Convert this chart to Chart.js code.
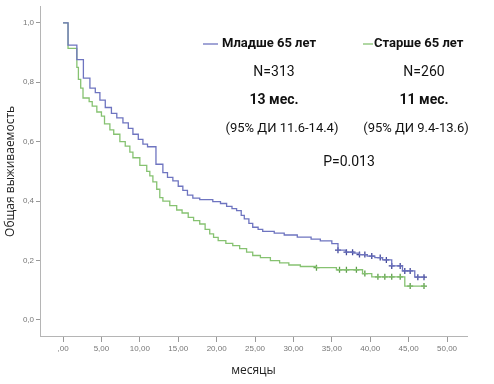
<!DOCTYPE html>
<html>
<head>
<meta charset="utf-8">
<script src="https://cdn.jsdelivr.net/npm/chart.js@4"></script>
<style>
  html, body { margin:0; padding:0; background:#fff; }
  #wrap { width:494px; height:384px; position:relative; }
</style>
</head>
<body>
<div id="wrap"><canvas id="km" width="494" height="384"></canvas></div>
<script>
// Kaplan-Meier data (months / survival share)
const youngTimes = [0, 0.65, 1.8, 2.65, 3.5, 4.2, 4.8, 5.5, 6.3, 7.0, 7.8, 8.5, 9.1, 9.8, 10.4, 11.0, 12.1, 13.0, 13.6, 14.3,
  15.0, 15.6, 16.2, 16.9, 17.8, 19.5, 20.5, 21.3, 22.0, 22.6, 23.2, 23.6, 24.2, 24.7, 25.4, 26.0, 27.5, 28.8, 30.5, 32.3,
  33.5, 35.0, 35.8, 36.8, 37.8, 38.6, 39.6, 40.6, 41.6, 42.8, 44.2, 45.8, 47.0];
const youngSurv = [1.0, 0.925, 0.876, 0.814, 0.78, 0.765, 0.74, 0.715, 0.695, 0.68, 0.663, 0.645, 0.625, 0.608, 0.592, 0.583, 0.524, 0.496, 0.48, 0.468,
  0.45, 0.436, 0.42, 0.41, 0.405, 0.398, 0.392, 0.382, 0.375, 0.368, 0.352, 0.34, 0.325, 0.312, 0.305, 0.298, 0.292, 0.286, 0.279, 0.272,
  0.266, 0.257, 0.235, 0.228, 0.225, 0.22, 0.215, 0.21, 0.202, 0.182, 0.165, 0.144, 0.144];
const youngCensored = [35.8, 36.9, 37.7, 38.6, 39.3, 40.2, 41.3, 42.1, 42.8, 43.9, 44.5, 45.2, 46.2, 47.0];

const oldTimes = [0, 0.65, 1.8, 2.0, 2.3, 2.6, 3.4, 3.8, 4.4, 5.0, 5.4, 6.1, 6.6, 7.4, 8.1, 8.7, 9.1, 10.0, 10.9, 11.3,
  11.7, 12.2, 12.6, 13.0, 13.9, 14.8, 15.5, 16.3, 17.0, 17.8, 18.5, 19.1, 19.6, 20.2, 21.2, 22.1, 23.0, 23.9, 24.7, 25.7,
  27.0, 28.2, 29.4, 30.9, 33.0, 35.6, 39.0, 40.2, 44.5, 47.1];
const oldSurv = [1.0, 0.914, 0.85, 0.81, 0.78, 0.747, 0.735, 0.72, 0.70, 0.686, 0.66, 0.64, 0.625, 0.60, 0.585, 0.565, 0.546, 0.52, 0.50, 0.485,
  0.465, 0.44, 0.412, 0.40, 0.385, 0.37, 0.36, 0.345, 0.334, 0.323, 0.305, 0.29, 0.278, 0.267, 0.258, 0.25, 0.24, 0.228, 0.217, 0.21,
  0.20, 0.192, 0.185, 0.18, 0.176, 0.169, 0.156, 0.145, 0.114, 0.114];
const oldCensored = [33.0, 36.0, 36.9, 38.2, 39.3, 41.0, 41.9, 42.8, 43.9, 45.2, 47.0];

const xTickValues = [0, 5, 10, 15, 20, 25, 30, 35, 40, 45, 50];
const xTickLabels = [',00', '5,00', '10,00', '15,00', '20,00', '25,00', '30,00', '35,00', '40,00', '45,00', '50,00'];
const yTickValues = [0, 0.2, 0.4, 0.6, 0.8, 1.0];
const yTickLabels = ['0,0', '0,2', '0,4', '0,6', '0,8', '1,0'];

const groupNames = ['Младше 65 лет', 'Старше 65 лет'];
const groupN = ['N=313', 'N=260'];
const groupMedian = ['13 мес.', '11 мес.'];
const groupCI = ['(95% ДИ 11.6-14.4)', '(95% ДИ 9.4-13.6)'];
const pValue = 'P=0.013';

const BLUE = '#6e74c0', BLUE_DARK = '#43489a';
const GREEN = '#86c271', GREEN_DARK = '#5c9e49';

const steps = (ts, ss) => ts.map((t,i)=>({x:t, y:ss[i]}));
// survival value at a censoring time = last step at or before it
const survAt = (ts, ss, t) => { let v = ss[0]; ts.forEach((x,i)=>{ if(x<=t+1e-9) v = ss[i]; }); return v; };
const marks = (cs, ts, ss) => cs.map(t=>({x:t, y:survAt(ts, ss, t)}));

const notes = {
  id:'notes',
  afterDraw(chart){
    const c = chart.ctx;
    const cx = [274, 424];
    c.save();
    c.fillStyle = '#111';
    c.textBaseline = 'middle';
    // legend rows
    c.font = 'bold 13px Roboto';
    c.textAlign = 'left';
    c.fillText(groupNames[0], 222, 44);
    c.fillText(groupNames[1], 374, 44);
    c.lineWidth = 1.3;
    c.strokeStyle = BLUE; c.beginPath(); c.moveTo(203,44); c.lineTo(218,44); c.stroke();
    c.strokeStyle = GREEN; c.beginPath(); c.moveTo(363,44); c.lineTo(373,44); c.stroke();
    c.textAlign = 'center';
    c.font = '14px Roboto';
    groupN.forEach((s,i)=>c.fillText(s, cx[i], 72));
    c.font = 'bold 14px Roboto';
    groupMedian.forEach((s,i)=>c.fillText(s, cx[i], 100));
    c.font = '13px Roboto';
    c.fillText(groupCI[0], 282, 129);
    c.fillText(groupCI[1], 416, 129);
    c.font = '14px Roboto';
    c.fillText(pValue, 349, 162);
    c.restore();
  }
};

new Chart(document.getElementById('km'), {
  type:'line',
  data:{
    datasets:[
      { label:groupNames[0], data:steps(youngTimes, youngSurv), stepped:'before', borderColor:BLUE, borderWidth:1.3, pointRadius:0, fill:false },
      { label:groupNames[1], data:steps(oldTimes, oldSurv), stepped:'before', borderColor:GREEN, borderWidth:1.3, pointRadius:0, fill:false },
      { label:'cens1', data:marks(youngCensored, youngTimes, youngSurv), showLine:false, pointStyle:'cross', pointRadius:3, borderColor:BLUE_DARK, borderWidth:1.3 },
      { label:'cens2', data:marks(oldCensored, oldTimes, oldSurv), showLine:false, pointStyle:'cross', pointRadius:3, borderColor:GREEN_DARK, borderWidth:1.3 }
    ]
  },
  options:{
    responsive:false,
    animation:false,
    layout:{ padding:{ left:0, right:27, top:5, bottom:0 } },
    plugins:{ legend:{display:false}, tooltip:{enabled:false} },
    scales:{
      x:{
        type:'linear', min:-3, max:52.6,
        afterBuildTicks:s=>{ s.ticks = xTickValues.map(v=>({value:v})); },
        afterFit:s=>{ s.height = 48; },
        ticks:{ autoSkip:false, maxRotation:0, padding:2, color:'#777', font:{family:'Arial', size:8},
          callback:(v)=>xTickLabels[xTickValues.indexOf(v)] },
        grid:{ drawOnChartArea:false, tickLength:6, color:'#999' },
        border:{ color:'#b5b5b5' },
        title:{ display:true, text:'месяцы', color:'#222', font:{family:'"Open Sans"', size:12}, padding:{top:0, bottom:6} }
      },
      y:{
        type:'linear', min:-0.054, max:1.054,
        afterBuildTicks:s=>{ s.ticks = yTickValues.map(v=>({value:v})); },
        afterFit:s=>{ s.width = 40; },
        ticks:{ autoSkip:false, padding:2, color:'#777', font:{family:'Arial', size:8},
          callback:(v)=>yTickLabels[yTickValues.indexOf(v)] },
        grid:{ drawOnChartArea:false, tickLength:4, color:'#999' },
        border:{ color:'#b5b5b5' },
        title:{ display:true, text:'Общая выживаемость', color:'#222', font:{family:'"Open Sans"', size:12}, padding:{top:3, bottom:0} }
      }
    }
  },
  plugins:[notes]
});
</script>
</body>
</html>
